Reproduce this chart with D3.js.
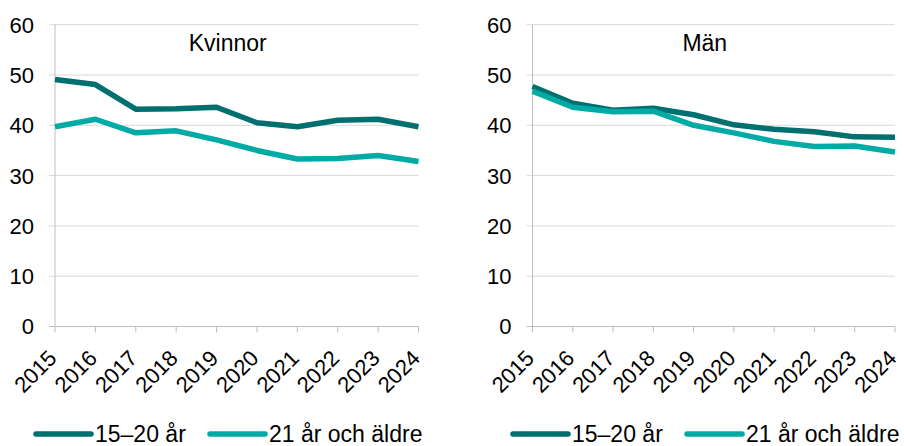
<!DOCTYPE html>
<html>
<head>
<meta charset="utf-8">
<script src="https://cdn.jsdelivr.net/npm/d3@7"></script>
<style>
  html, body { margin: 0; padding: 0; background: #ffffff; }
  svg { display: block; font-family: "Liberation Sans", Arial, sans-serif; }
</style>
</head>
<body>
<svg id="chart" width="904" height="446"></svg>
<script>
// Andel (%) per år, två åldersgrupper, uppdelat på kön
const years = ["2015", "2016", "2017", "2018", "2019", "2020", "2021", "2022", "2023", "2024"];
const yTicks = [0, 10, 20, 30, 40, 50, 60];
const seriesNames = ["15–20 år", "21 år och äldre"];
const seriesColors = ["#006f6f", "#00aaa5"];

const kvinnorYoung = [49.1, 48.1, 43.2, 43.3, 43.6, 40.5, 39.7, 41.0, 41.2, 39.7];
const kvinnorOld   = [39.7, 41.2, 38.5, 38.9, 37.1, 35.0, 33.3, 33.4, 34.0, 32.8];
const manYoung     = [47.7, 44.4, 43.0, 43.4, 42.1, 40.1, 39.2, 38.7, 37.7, 37.6];
const manOld       = [46.8, 43.6, 42.7, 42.8, 40.0, 38.5, 36.8, 35.8, 35.9, 34.7];

const panels = [
  { title: "Kvinnor", values: [kvinnorYoung, kvinnorOld], x0: 55, x1: 418.5, legendX: 36 },
  { title: "Män",     values: [manYoung, manOld],         x0: 532.5, x1: 895, legendX: 513 }
];

const svg = d3.select("#chart");
const yTop = 24.7, yBottom = 326.5;
const y = d3.scaleLinear().domain([0, 60]).range([yBottom, yTop]);

panels.forEach(p => {
  const g = svg.append("g");
  const x = d3.scalePoint().domain(years).range([p.x0, p.x1]);

  // horisontella stödlinjer
  g.append("g").selectAll("line")
    .data(yTicks.filter(t => t > 0))
    .join("line")
    .attr("x1", p.x0 - 6).attr("x2", p.x1)
    .attr("y1", d => y(d)).attr("y2", d => y(d))
    .attr("stroke", "#d9d9d9").attr("stroke-width", 1);

  // y-axelns etiketter
  g.append("g").selectAll("text")
    .data(yTicks)
    .join("text")
    .attr("x", p.x0 - 21)
    .attr("y", d => y(d))
    .attr("dy", "0.36em")
    .attr("text-anchor", "end")
    .attr("font-size", 22)
    .attr("fill", "#000")
    .text(d => d);

  // axellinjer
  g.append("line")
    .attr("x1", p.x0).attr("x2", p.x0)
    .attr("y1", yTop).attr("y2", yBottom)
    .attr("stroke", "#bfbfbf").attr("stroke-width", 1);
  g.append("line")
    .attr("x1", p.x0 - 6).attr("x2", p.x1)
    .attr("y1", yBottom).attr("y2", yBottom)
    .attr("stroke", "#bfbfbf").attr("stroke-width", 1);
  g.append("g").selectAll("line")
    .data(years)
    .join("line")
    .attr("x1", d => x(d)).attr("x2", d => x(d))
    .attr("y1", yBottom).attr("y2", yBottom + 6)
    .attr("stroke", "#bfbfbf").attr("stroke-width", 1);

  // årtal, roterade
  g.append("g").selectAll("text")
    .data(years)
    .join("text")
    .attr("transform", d => `translate(${x(d) + 3},${yBottom + 33}) rotate(-45)`)
    .attr("text-anchor", "end")
    .attr("font-size", 22)
    .attr("fill", "#000")
    .text(d => d);

  // rubrik
  g.append("text")
    .attr("x", (p.x0 + p.x1) / 2 - 9)
    .attr("y", 51)
    .attr("text-anchor", "middle")
    .attr("font-size", 23)
    .attr("fill", "#000")
    .text(p.title);

  // linjer
  const line = d3.line().x((d, i) => x(years[i])).y(d => y(d));
  g.append("g").selectAll("path")
    .data(p.values)
    .join("path")
    .attr("d", d => line(d))
    .attr("fill", "none")
    .attr("stroke", (d, i) => seriesColors[i])
    .attr("stroke-width", 5.5)
    .attr("stroke-linejoin", "round");

  // teckenförklaring
  const legendOffsets = [0, 174];
  const lg = g.append("g").selectAll("g")
    .data(seriesNames)
    .join("g")
    .attr("transform", (d, i) => `translate(${p.legendX + legendOffsets[i]},434)`);
  lg.append("line")
    .attr("x1", 0).attr("x2", 55)
    .attr("y1", 0).attr("y2", 0)
    .attr("stroke", (d, i) => seriesColors[i])
    .attr("stroke-width", 5.5)
    .attr("stroke-linecap", "round");
  lg.append("text")
    .attr("x", 59)
    .attr("y", 8)
    .attr("font-size", 23)
    .attr("fill", "#000")
    .text(d => d);
});
</script>
</body>
</html>
